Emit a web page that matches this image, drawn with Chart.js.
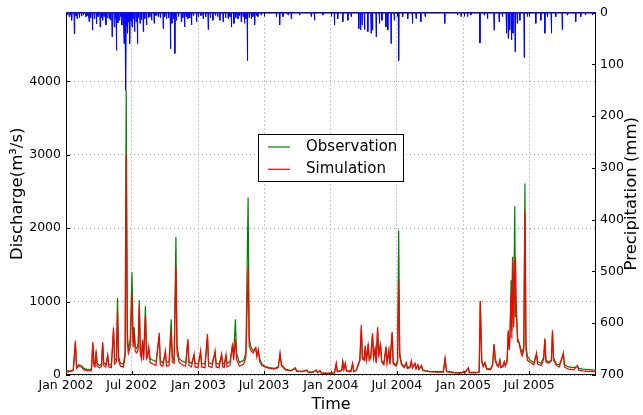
<!DOCTYPE html>
<html>
<head>
<meta charset="utf-8">
<script src="https://cdn.jsdelivr.net/npm/chart.js@4/dist/chart.umd.min.js"></script>
<style>html,body{margin:0;background:#fff}</style>
</head>
<body>
<canvas id="c" width="643" height="415"></canvas>
<script>
// x axis is days since 1 Jan 2002
const tickDays = [0, 181, 365, 546, 730, 912, 1096, 1277];
const tickLabels = ["Jan 2002", "Jul 2002", "Jan 2003", "Jul 2003", "Jan 2004", "Jul 2004", "Jan 2005", "Jul 2005"];
const qTicks = [0, 1000, 2000, 3000, 4000];

// discharge (m3/s) at peaks and troughs
const qDays = [
  0, 10, 20, 26, 29, 35, 42, 50, 60, 70,
  74, 77, 80, 83, 86, 92, 98, 101, 104, 110,
  115, 118, 125, 131, 134, 139, 142, 145, 150, 158,
  163, 166, 169, 172, 177, 182, 185, 188, 191, 195,
  199, 202, 205, 208, 211, 214, 219, 222, 225, 228,
  232, 240, 248, 257, 260, 267, 274, 277, 284, 290,
  293, 298, 303, 306, 312, 320, 330, 336, 339, 346,
  353, 356, 364, 371, 374, 383, 390, 393, 402, 411,
  414, 422, 429, 432, 436, 441, 444, 452, 459, 462,
  467, 470, 478, 490, 496, 502, 505, 510, 516, 523,
  526, 530, 534, 540, 548, 560, 575, 585, 590, 594,
  605, 620, 632, 636, 650, 664, 668, 680, 690, 694,
  700, 704, 720, 740, 745, 748, 760, 763, 766, 770,
  773, 785, 790, 793, 800, 806, 810, 814, 817, 822,
  825, 828, 833, 836, 840, 845, 848, 852, 855, 859,
  862, 867, 870, 876, 882, 885, 890, 893, 899, 902,
  910, 914, 917, 920, 925, 932, 938, 941, 948, 952,
  955, 962, 965, 970, 973, 980, 983, 990, 1000, 1020,
  1040, 1045, 1049, 1070, 1090, 1096, 1099, 1109, 1112, 1130,
  1139, 1142, 1146, 1150, 1155, 1160, 1170, 1176, 1180, 1183,
  1187, 1192, 1196, 1199, 1204, 1208, 1211, 1216, 1219, 1222,
  1224, 1227, 1229, 1231, 1234, 1237, 1239, 1242, 1245, 1249,
  1254, 1258, 1262, 1265, 1268, 1272, 1280, 1290, 1297, 1300,
  1310, 1317, 1320, 1323, 1330, 1338, 1341, 1344, 1352, 1360,
  1371, 1374, 1385, 1400, 1410, 1413, 1425, 1440, 1450, 1461
];
const qObs = [
  60, 55, 70, 440, 110, 140, 130, 90, 70, 80,
  420, 160, 150, 300, 160, 130, 150, 430, 170, 140,
  260, 150, 130, 600, 200, 220, 1050, 250, 160, 150,
  300, 3880, 600, 330, 480, 1400, 450, 650, 380, 360,
  420, 1020, 330, 280, 450, 260, 940, 280, 300, 360,
  220, 200, 180, 520, 190, 170, 300, 170, 180, 760,
  250, 200, 1880, 400, 220, 190, 170, 460, 180, 160,
  260, 160, 150, 300, 160, 150, 520, 170, 150, 300,
  160, 150, 270, 160, 150, 260, 160, 180, 400, 250,
  760, 300, 170, 200, 300, 2420, 500, 380, 330, 370,
  280, 330, 220, 150, 120, 100, 90, 110, 280, 140,
  80, 60, 90, 55, 50, 60, 40, 40, 60, 35,
  55, 30, 25, 30, 150, 50, 60, 180, 80, 150,
  60, 50, 150, 50, 60, 150, 200, 620, 250, 220,
  380, 200, 400, 220, 250, 540, 250, 350, 180, 620,
  280, 420, 200, 150, 360, 180, 330, 160, 560, 170,
  140, 200, 1970, 300, 160, 110, 160, 100, 110, 180,
  100, 150, 90, 130, 80, 120, 70, 60, 50, 45,
  45, 210, 50, 35, 30, 45, 30, 90, 35, 35,
  40, 1000, 200, 130, 170, 90, 80, 150, 420, 200,
  150, 120, 200, 110, 120, 180, 130, 200, 580, 350,
  560, 1290, 600, 1610, 700, 2300, 800, 820, 500, 440,
  350, 300, 400, 2610, 400, 250, 200, 170, 280, 180,
  160, 250, 480, 200, 180, 200, 580, 230, 150, 140,
  280, 140, 110, 100, 120, 90, 80, 75, 70, 65
];
const qSim = [
  40, 45, 60, 470, 90, 120, 110, 70, 55, 60,
  450, 120, 110, 330, 120, 100, 120, 450, 130, 110,
  270, 110, 100, 650, 150, 180, 870, 200, 120, 110,
  250, 3000, 450, 300, 380, 1100, 380, 560, 320, 300,
  350, 950, 280, 220, 480, 200, 800, 220, 250, 380,
  170, 150, 130, 575, 140, 120, 330, 120, 130, 600,
  180, 160, 1470, 300, 170, 140, 120, 490, 130, 110,
  285, 110, 100, 330, 110, 100, 558, 120, 100, 330,
  110, 100, 285, 110, 100, 270, 110, 130, 430, 200,
  490, 220, 120, 150, 250, 1470, 400, 330, 300, 370,
  250, 350, 180, 130, 110, 90, 80, 100, 300, 130,
  70, 55, 100, 50, 45, 70, 35, 35, 70, 30,
  60, 25, 20, 25, 160, 45, 60, 180, 80, 160,
  55, 45, 160, 45, 60, 140, 200, 680, 220, 200,
  400, 180, 430, 200, 230, 570, 230, 350, 160, 650,
  250, 430, 180, 140, 380, 160, 340, 140, 590, 150,
  120, 180, 1290, 250, 140, 100, 170, 90, 100, 190,
  95, 160, 85, 140, 75, 130, 65, 55, 45, 40,
  40, 230, 45, 30, 25, 50, 25, 100, 30, 30,
  40, 1010, 180, 110, 160, 80, 70, 130, 420, 250,
  140, 110, 200, 100, 110, 180, 120, 180, 610, 340,
  590, 1110, 500, 1570, 650, 1400, 1600, 800, 450, 440,
  300, 260, 350, 2240, 350, 200, 170, 140, 300, 150,
  130, 220, 500, 180, 160, 190, 610, 200, 130, 110,
  300, 110, 80, 70, 130, 65, 55, 50, 50, 45
];

// daily precipitation (mm) on rain days
const precipDays = [
  4, 9, 13, 16, 23, 27, 31, 37, 43, 48, 55, 60, 64, 68, 73, 78, 84, 88, 94, 97,
  101, 105, 110, 114, 119, 123, 127, 133, 136, 139, 143, 147, 150, 154, 157, 160, 163, 165, 168, 170,
  173, 176, 179, 182, 185, 189, 193, 197, 200, 204, 208, 213, 217, 222, 227, 231, 236, 243, 248, 254,
  260, 268, 272, 277, 283, 288, 292, 296, 300, 304, 310, 318, 322, 327, 331, 336, 341, 346, 351, 360,
  365, 372, 378, 385, 392, 398, 405, 412, 418, 424, 433, 440, 447, 452, 456, 463, 468, 474, 478, 483,
  488, 492, 496, 500, 505, 511, 515, 520, 525, 529, 538, 580, 589, 598, 612, 621, 644, 676, 685, 708,
  740, 749, 763, 777, 786, 807, 812, 816, 823, 832, 841, 845, 855, 864, 871, 882, 887, 896, 905, 917,
  928, 942, 955, 965, 978, 990, 1044, 1079, 1089, 1107, 1116, 1141, 1153, 1162, 1180, 1194, 1203, 1214, 1219, 1223,
  1228, 1232, 1238, 1244, 1251, 1263, 1272, 1295, 1309, 1320, 1327, 1338, 1350, 1368, 1382, 1405, 1419, 1432, 1451
];
const precipMm = [
  5, 8, 4, 15, 41, 6, 12, 10, 7, 5, 8, 6, 18, 10, 34, 12, 22, 8, 28, 10,
  15, 8, 24, 10, 12, 15, 47, 28, 12, 73, 20, 15, 8, 24, 10, 60, 20, 150, 25, 40,
  18, 60, 15, 28, 12, 37, 18, 60, 10, 21, 14, 37, 12, 24, 10, 8, 15, 21, 6, 8,
  10, 31, 8, 12, 10, 70, 21, 12, 79, 15, 8, 18, 10, 28, 8, 12, 10, 24, 6, 18,
  8, 6, 12, 8, 33, 10, 15, 6, 8, 15, 18, 10, 12, 8, 28, 21, 10, 12, 6, 18,
  8, 21, 12, 93, 10, 12, 8, 24, 6, 8, 5, 8, 24, 8, 5, 12, 5, 8, 15, 5,
  24, 12, 18, 15, 8, 31, 34, 24, 33, 37, 40, 34, 47, 21, 15, 28, 34, 60, 15, 93,
  8, 12, 21, 12, 18, 8, 21, 5, 8, 8, 5, 59, 5, 12, 34, 18, 8, 40, 50, 34,
  53, 40, 76, 21, 15, 87, 8, 21, 15, 40, 8, 40, 8, 33, 5, 18, 8, 5, 5
];

const obsData = qDays.map((d, i) => ({ x: d, y: qObs[i] }));
const simData = qDays.map((d, i) => ({ x: d, y: qSim[i] }));

// precipitation drawn as a daily line: zero on either side of each rain day
const precipData = [{ x: 0, y: 0 }];
precipDays.forEach((d, i) => {
  precipData.push({ x: d - 1, y: 0 }, { x: d, y: precipMm[i] }, { x: d + 1, y: 0 });
});
precipData.push({ x: 1461, y: 0 });

const frame = {
  id: "frame",
  beforeDatasetsDraw(chart) {
    const { ctx, chartArea: a, scales } = chart;
    ctx.save();
    ctx.strokeStyle = "#000";
    ctx.lineWidth = 1;
    ctx.strokeRect(a.left + 0.5, a.top + 0.5, a.right - a.left - 1, a.bottom - a.top - 1);
    ctx.beginPath();
    scales.x.ticks.forEach(t => {
      const px = Math.round(scales.x.getPixelForValue(t.value)) + 0.5;
      ctx.moveTo(px, a.bottom); ctx.lineTo(px, a.bottom - 4);
      ctx.moveTo(px, a.top); ctx.lineTo(px, a.top + 4);
    });
    scales.y.ticks.forEach(t => {
      const py = Math.round(scales.y.getPixelForValue(t.value)) + 0.5;
      ctx.moveTo(a.left, py); ctx.lineTo(a.left + 4, py);
    });
    scales.y2.ticks.forEach(t => {
      const py = Math.round(scales.y2.getPixelForValue(t.value)) + 0.5;
      ctx.moveTo(a.right, py); ctx.lineTo(a.right - 4, py);
    });
    ctx.stroke();
    ctx.restore();
  },
  afterDraw(chart) {
    // right axis title reads bottom-to-top, as in the reference
    const { ctx, chartArea: a } = chart;
    ctx.save();
    ctx.translate(632, (a.top + a.bottom) / 2);
    ctx.rotate(-Math.PI / 2);
    ctx.font = "16.5px 'DejaVu Sans'";
    ctx.fillStyle = "#000";
    ctx.textAlign = "center";
    ctx.textBaseline = "middle";
    ctx.fillText("Precipitation (mm)", 0, 0);
    ctx.restore();
  },
};

const boxLegend = {
  id: "boxLegend",
  afterDraw(chart) {
    const ctx = chart.ctx;
    const items = chart.data.datasets.filter(d => d.inLegend);
    const x0 = 258, y0 = 134, w = 145, h = 47;
    ctx.save();
    ctx.fillStyle = "#fff";
    ctx.fillRect(x0, y0, w, h);
    ctx.strokeStyle = "#000";
    ctx.lineWidth = 1;
    ctx.strokeRect(x0 + 0.5, y0 + 0.5, w, h);
    ctx.font = "15px 'DejaVu Sans'";
    ctx.textBaseline = "middle";
    items.forEach((d, i) => {
      const y = y0 + 13 + i * 22.3;
      ctx.strokeStyle = d.borderColor;
      ctx.lineWidth = 1.2;
      ctx.beginPath();
      ctx.moveTo(x0 + 10, y);
      ctx.lineTo(x0 + 32, y);
      ctx.stroke();
      ctx.fillStyle = "#000";
      ctx.fillText(d.label, x0 + 48, y);
    });
    ctx.restore();
  },
};

Chart.defaults.font.family = "'DejaVu Sans'";
Chart.defaults.color = "#000";

new Chart(document.getElementById("c"), {
  type: "line",
  data: {
    datasets: [
      { label: "Observation", data: obsData, yAxisID: "y", borderColor: "#008000", borderWidth: 1.2, pointRadius: 0, tension: 0, order: 2, inLegend: true },
      { label: "Simulation", data: simData, yAxisID: "y", borderColor: "#ff0000", borderWidth: 1.2, pointRadius: 0, tension: 0, order: 1, inLegend: true },
      { label: "Precipitation", data: precipData, yAxisID: "y2", borderColor: "#0000ff", borderWidth: 1, pointRadius: 0, tension: 0, order: 0, clip: 2 },
    ],
  },
  options: {
    responsive: false,
    animation: false,
    events: [],
    layout: { padding: { top: 12, left: 0, right: 0, bottom: 0 } },
    plugins: { legend: { display: false }, tooltip: { enabled: false } },
    scales: {
      x: {
        type: "linear", min: 0, max: 1461,
        afterBuildTicks: s => { s.ticks = tickDays.map(v => ({ value: v })); },
        afterFit: s => { s.height = 40; },
        ticks: { callback: v => tickLabels[tickDays.indexOf(v)], font: { size: 12.5 }, padding: 3, maxRotation: 0, autoSkip: false },
        grid: { color: "#999", drawTicks: false },
        border: { display: false, dash: [1, 3] },
        title: { display: true, text: "Time", font: { size: 16 }, padding: { top: 0, bottom: 1 } },
      },
      y: {
        position: "left", min: 0, max: 4940,
        afterBuildTicks: s => { s.ticks = qTicks.map(v => ({ value: v })); },
        afterFit: s => { s.width = 66; },
        ticks: { callback: v => String(v), font: { size: 12.5 }, padding: 5, autoSkip: false },
        grid: { color: "#999", drawTicks: false },
        border: { display: false, dash: [1, 3] },
        title: { display: true, text: "Discharge(m³/s)", font: { size: 16.5 }, padding: { top: 8, bottom: 0 } },
      },
      y2: {
        position: "right", min: 0, max: 700, reverse: true,
        afterFit: s => { s.width = 47; },
        ticks: { stepSize: 100, callback: v => String(v), font: { size: 12.5 }, padding: 4 },
        grid: { display: false, drawTicks: false },
        border: { display: false },
        title: { display: false },
      },
    },
  },
  plugins: [frame, boxLegend],
});
</script>
</body>
</html>
